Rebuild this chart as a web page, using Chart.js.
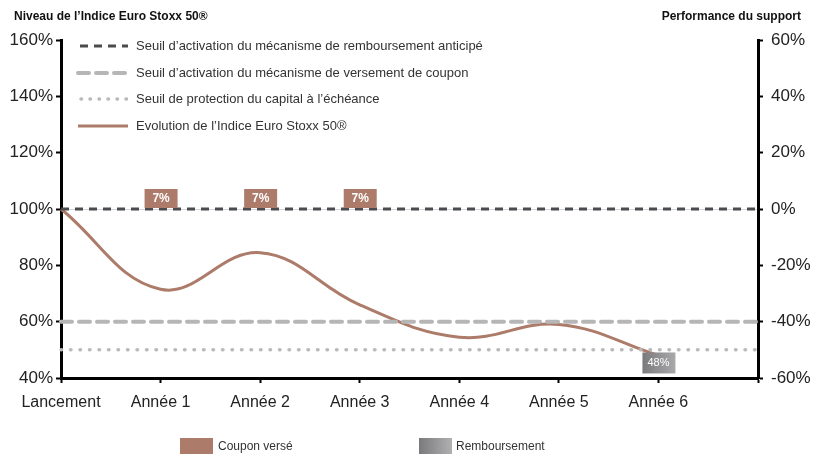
<!DOCTYPE html>
<html lang="fr">
<head>
<meta charset="utf-8">
<title>Euro Stoxx 50</title>
<script src="https://cdn.jsdelivr.net/npm/chart.js@4/dist/chart.umd.min.js"></script>
<style>
  html, body { margin: 0; padding: 0; background: #fff; }
  #box { position: relative; width: 822px; height: 454px; }
</style>
</head>
<body>
<div id="box"><canvas id="graphique"></canvas></div>
<script>
// Données du graphique
const categories = ['Lancement', 'Année 1', 'Année 2', 'Année 3', 'Année 4', 'Année 5', 'Année 6', ''];
const niveauIndice = [100, 71.5, 84.5, 66, 54.5, 59, 48, null];
const seuilRemboursement = [100, 100, 100, 100, 100, 100, 100, 100];
const seuilCoupon = [60, 60, 60, 60, 60, 60, 60, 60];
const seuilProtection = [50, 50, 50, 50, 50, 50, 50, 50];
const coupons = [null, '7%', '7%', '7%', null, null, null, null];
const remboursements = [null, null, null, null, null, null, '48%', null];
const ticksGauche = [40, 60, 80, 100, 120, 140, 160];

const police = '"Liberation Sans", Arial, Helvetica, sans-serif';
const brun = '#ad7b69';
const grisFonce = '#4b4b4b';
const grisClair = '#b6b6b6';
const grisPoint = '#b9b9b9';

const libelles = [
    'Seuil d\u2019activation du mécanisme de remboursement anticipé',
    'Seuil d\u2019activation du mécanisme de versement de coupon',
    'Seuil de protection du capital à l\u2019échéance',
    'Evolution de l\u2019Indice Euro Stoxx 50\u00AE'
];

// Plugin : titres, légende, étiquettes de coupon
const decor = {
    id: 'decor',
    afterDatasetsDraw(chart) {
        const ctx = chart.ctx;
        const x = chart.scales.x;
        const y = chart.scales.y;
        ctx.save();

        // Titres des axes
        ctx.fillStyle = '#111';
        ctx.font = 'bold 12px ' + police;
        ctx.textBaseline = 'middle';
        ctx.textAlign = 'left';
        ctx.fillText('Niveau de l\u2019Indice Euro Stoxx 50\u00AE', 14, 17);
        ctx.textAlign = 'right';
        ctx.fillText('Performance du support', 801, 17);

        // Légende en haut
        const lignes = [
            { couleur: grisFonce, largeur: 3, tirets: [8, 6], cap: 'butt', x0: 80 },
            { couleur: grisClair, largeur: 4, tirets: [11, 7], cap: 'round', x0: 78 },
            { couleur: grisPoint, largeur: 3.5, tirets: [0.5, 8.5], cap: 'round', x0: 81 },
            { couleur: brun, largeur: 3, tirets: [], cap: 'butt', x0: 78 }
        ];
        const rangs = [46, 73, 99, 126];
        lignes.forEach((l, i) => {
            ctx.beginPath();
            ctx.strokeStyle = l.couleur;
            ctx.lineWidth = l.largeur;
            ctx.lineCap = l.cap;
            ctx.setLineDash(l.tirets);
            ctx.moveTo(l.x0, rangs[i]);
            ctx.lineTo(128, rangs[i]);
            ctx.stroke();
            ctx.setLineDash([]);
            ctx.fillStyle = '#333';
            ctx.font = '13px ' + police;
            ctx.textAlign = 'left';
            ctx.fillText(libelles[i], 136, rangs[i]);
        });

        // Étiquettes des coupons versés
        ctx.font = 'bold 12px ' + police;
        ctx.textAlign = 'center';
        coupons.forEach((c, i) => {
            if (!c) return;
            const px = x.getPixelForValue(i);
            const py = y.getPixelForValue(100);
            ctx.fillStyle = brun;
            ctx.fillRect(px - 16, py - 20, 33, 19);
            ctx.fillStyle = '#fff';
            ctx.fillText(c, px + 0.5, py - 10);
        });

        // Étiquette de remboursement
        remboursements.forEach((r, i) => {
            if (!r) return;
            const px = x.getPixelForValue(i);
            const py = y.getPixelForValue(niveauIndice[i]);
            const g = ctx.createLinearGradient(px - 16, 0, px + 17, 0);
            g.addColorStop(0, '#7a7a7c');
            g.addColorStop(1, '#a9a9ab');
            ctx.fillStyle = g;
            ctx.fillRect(px - 16, py - 3, 33, 21);
            ctx.fillStyle = '#fff';
            ctx.font = '11px ' + police;
            ctx.fillText(r, px, py + 8);
        });

        // Légende du bas
        ctx.fillStyle = brun;
        ctx.fillRect(180, 438, 33, 16);
        const g2 = ctx.createLinearGradient(419, 0, 452, 0);
        g2.addColorStop(0, '#7a7a7c');
        g2.addColorStop(1, '#b0b0b2');
        ctx.fillStyle = g2;
        ctx.fillRect(419, 438, 33, 16);
        ctx.fillStyle = '#333';
        ctx.font = '12px ' + police;
        ctx.textAlign = 'left';
        ctx.fillText('Coupon versé', 218, 447);
        ctx.fillText('Remboursement', 456, 447);

        ctx.restore();
    }
};

new Chart(document.getElementById('graphique'), {
    type: 'line',
    data: {
        labels: categories,
        datasets: [
            {
                label: libelles[0],
                data: seuilRemboursement,
                borderColor: grisFonce,
                borderWidth: 3,
                borderDash: [8, 6],
                pointRadius: 0,
                tension: 0
            },
            {
                label: libelles[1],
                data: seuilCoupon,
                borderColor: grisClair,
                borderWidth: 4,
                borderDash: [11, 7],
                borderCapStyle: 'round',
                pointRadius: 0,
                tension: 0
            },
            {
                label: libelles[2],
                data: seuilProtection,
                borderColor: grisPoint,
                borderWidth: 3.5,
                borderDash: [0.5, 9],
                borderCapStyle: 'round',
                pointRadius: 0,
                tension: 0
            },
            {
                label: libelles[3],
                data: niveauIndice,
                borderColor: brun,
                borderWidth: 3,
                pointRadius: 0,
                tension: 0.4,
                spanGaps: false
            }
        ]
    },
    options: {
        responsive: true,
        maintainAspectRatio: false,
        animation: false,
        layout: { padding: { top: 40, left: 0, right: 0, bottom: 0 } },
        plugins: {
            legend: { display: false },
            tooltip: { enabled: false }
        },
        scales: {
            x: {
                offset: false,
                grid: {
                    offset: false,
                    drawOnChartArea: false,
                    tickLength: 5,
                    tickColor: '#000',
                    tickWidth: 2
                },
                border: { color: '#000', width: 3 },
                ticks: {
                    color: '#222',
                    font: { family: police, size: 16 },
                    padding: 10,
                    maxRotation: 0,
                    autoSkip: false
                },
                afterFit(s) { s.height = 76; }
            },
            y: {
                position: 'left',
                min: 40,
                max: 160,
                afterBuildTicks(s) { s.ticks = ticksGauche.map(v => ({ value: v })); },
                grid: {
                    color: ctx => ctx.tick && ctx.tick.value === 100 ? '#cdd5e0' : 'rgba(0,0,0,0)',
                    tickLength: 5,
                    tickColor: '#000',
                    tickWidth: 2
                },
                border: { color: '#000', width: 3 },
                ticks: {
                    color: '#222',
                    font: { family: police, size: 17 },
                    padding: 3,
                    callback: v => v + '%'
                },
                afterFit(s) { s.width = 61; }
            },
            y2: {
                position: 'right',
                min: -60,
                max: 60,
                afterBuildTicks(s) { s.ticks = ticksGauche.map(v => ({ value: v - 100 })); },
                grid: {
                    drawOnChartArea: false,
                    tickLength: 5,
                    tickColor: '#000',
                    tickWidth: 2
                },
                border: { color: '#000', width: 3 },
                ticks: {
                    color: '#222',
                    font: { family: police, size: 17 },
                    padding: 8,
                    callback: v => v + '%'
                },
                afterFit(s) { s.width = 64; }
            }
        }
    },
    plugins: [decor]
});
</script>
</body>
</html>
